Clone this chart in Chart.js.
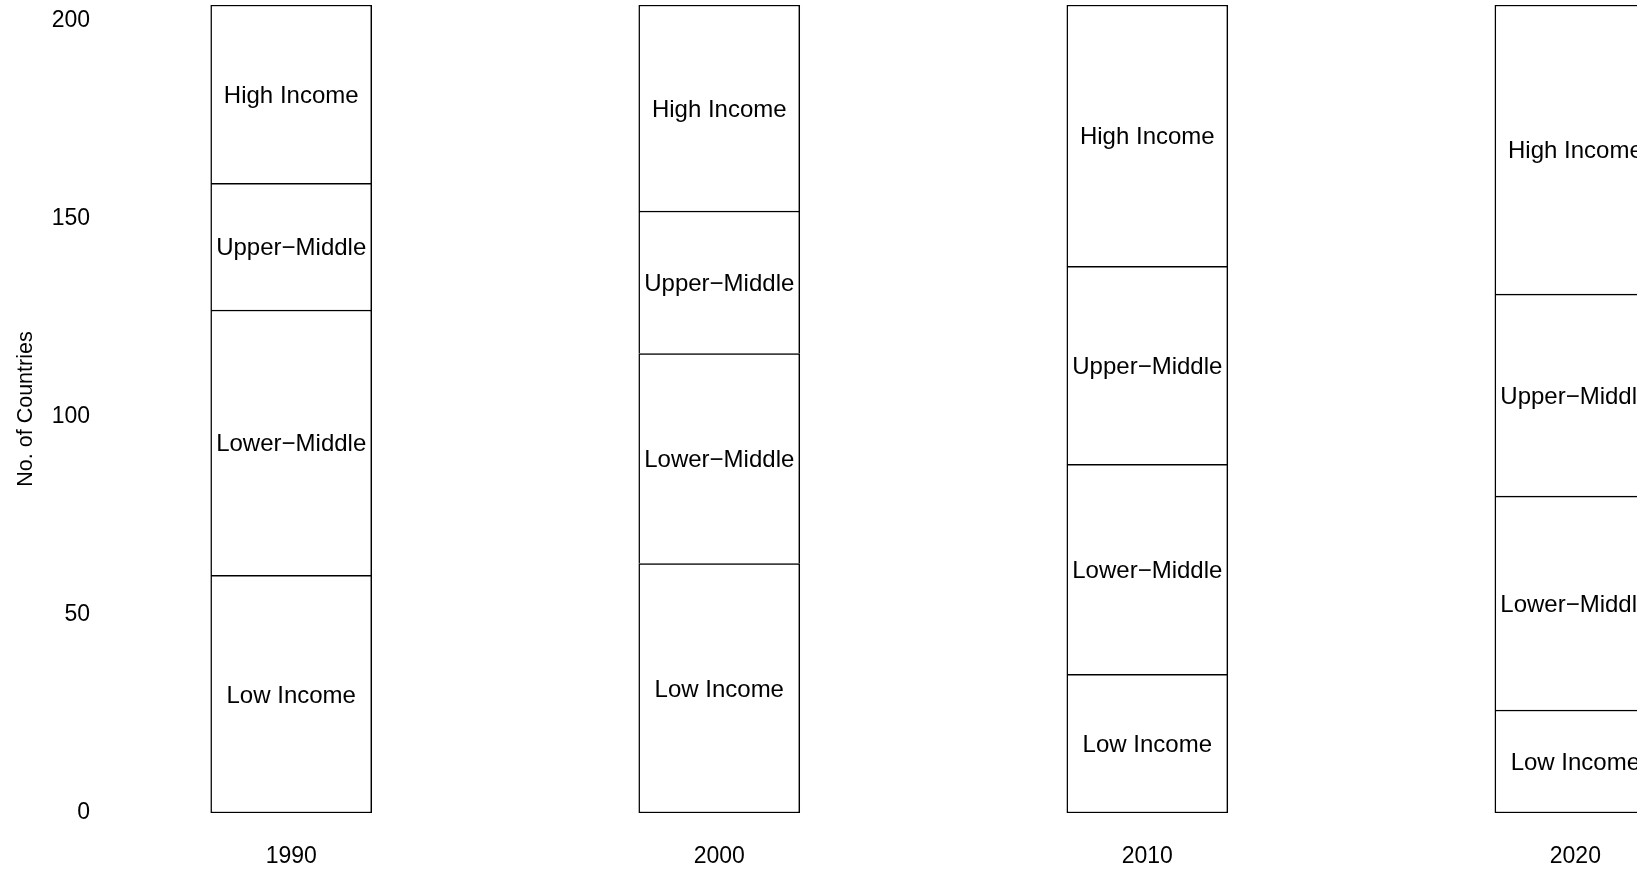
<!DOCTYPE html>
<html>
<head>
<meta charset="utf-8">
<script src="https://cdn.jsdelivr.net/npm/chart.js@4/dist/chart.umd.min.js"></script>
<style>
  html, body { margin: 0; padding: 0; background: #fff; overflow: hidden; }
  #wrap { position: relative; width: 1637px; height: 869px; }
</style>
</head>
<body>
<div id="wrap"><canvas id="incomeChart"></canvas></div>
<script>
// data
const years = [1990, 2000, 2010, 2020];
const lowIncome = [60, 63, 35, 26];
const lowerMiddle = [67, 53, 53, 54];
const upperMiddle = [32, 36, 50, 51];
const highIncome = [45, 52, 66, 73];
const groupNames = ["Low Income", "Lower\u2212Middle", "Upper\u2212Middle", "High Income"];
const yTicks = [0, 50, 100, 150, 200];

const FONT = "'Liberation Sans', Arial, Helvetica, sans-serif";

const series = [lowIncome, lowerMiddle, upperMiddle, highIncome];

const datasets = series.map((vals, i) => ({
  label: groupNames[i],
  data: years.map((yr, j) => ({ x: yr, y: vals[j] })),
  backgroundColor: "#ffffff",
  borderColor: "#000000",
  borderWidth: 1.5,
  borderSkipped: i === 0 ? false : "start",
  barThickness: 161,
}));

// write the group name in the middle of each segment
const segmentLabels = {
  id: "segmentLabels",
  afterDatasetsDraw(chart) {
    const ctx = chart.ctx;
    ctx.save();
    ctx.font = "24px " + FONT;
    ctx.fillStyle = "#000";
    ctx.textAlign = "center";
    ctx.textBaseline = "middle";
    chart.data.datasets.forEach((ds, i) => {
      chart.getDatasetMeta(i).data.forEach((bar) => {
        const c = bar.getCenterPoint();
        ctx.fillText(ds.label, c.x, c.y + 2);
      });
    });
    ctx.restore();
  },
};

const ctx = document.getElementById("incomeChart").getContext("2d");
const myChart = new Chart(ctx, {
  type: "bar",
  plugins: [segmentLabels],
  data: { datasets: datasets },
  options: {
    responsive: true,
    maintainAspectRatio: false,
    animation: false,
    layout: { padding: { top: 5, left: 0, right: 0, bottom: 0 } },
    scales: {
      x: {
        type: "linear",
        stacked: true,
        offset: false,
        min: 1986,
        max: 2021.44,
        grid: { display: false, offset: false, drawTicks: false },
        border: { display: false },
        afterBuildTicks: (scale) => {
          scale.ticks = years.map((v) => ({ value: v }));
        },
        afterFit: (scale) => {
          scale.height = 56;
          scale.paddingLeft = 0;
          scale.paddingRight = 0;
        },
        ticks: {
          padding: 30,
          maxRotation: 0,
          autoSkip: false,
          color: "#000",
          font: { family: FONT, size: 23 },
          callback: (value) => String(value),
        },
      },
      y: {
        stacked: true,
        min: 0,
        max: 204,
        grid: { display: false, drawTicks: false },
        border: { display: false },
        afterBuildTicks: (scale) => {
          scale.ticks = yTicks.map((v) => ({ value: v }));
        },
        afterFit: (scale) => {
          scale.width = 120;
          scale.paddingTop = 0;
          scale.paddingBottom = 0;
        },
        ticks: {
          padding: 30,
          color: "#000",
          font: { family: FONT, size: 23 },
        },
        title: {
          display: true,
          text: "No. of Countries",
          color: "#000",
          font: { family: FONT, size: 21.5 },
          padding: { top: 13, bottom: 0 },
        },
      },
    },
    plugins: {
      legend: { display: false },
      tooltip: { enabled: false },
    },
  },
});
</script>
</body>
</html>
